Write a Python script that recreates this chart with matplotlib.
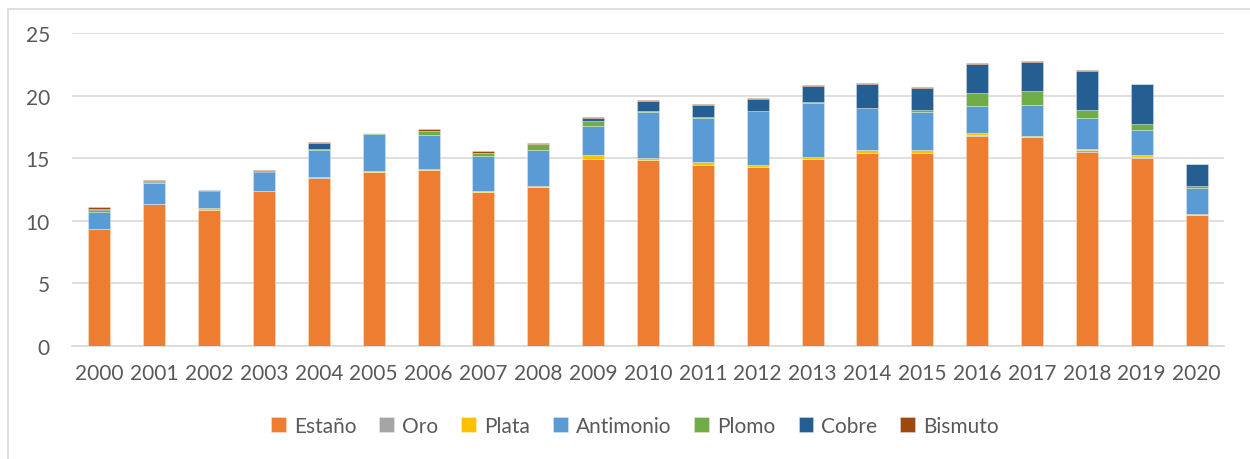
import numpy as np
import matplotlib
matplotlib.use("Agg")
import matplotlib.pyplot as plt
from matplotlib.patches import Rectangle

plt.rcParams['font.family'] = ['Lato', 'DejaVu Sans']

years = [str(y) for y in range(2000, 2021)]

estano = [9.35, 11.32, 10.89, 12.38, 13.45, 13.92, 14.06, 12.27, 12.70, 14.94, 14.83,
          14.46, 14.27, 14.94, 15.42, 15.42, 16.80, 16.69, 15.52, 15.04, 10.44]
oro = [0.01, 0.01, 0.01, 0.01, 0.01, 0.01, 0.01, 0.01, 0.01, 0.02, 0.02,
       0.02, 0.02, 0.02, 0.02, 0.02, 0.02, 0.02, 0.10, 0.02, 0.02]
plata = [0.02, 0.02, 0.12, 0.02, 0.03, 0.03, 0.03, 0.09, 0.04, 0.27, 0.17,
         0.24, 0.17, 0.16, 0.19, 0.19, 0.16, 0.09, 0.11, 0.17, 0.11]
antimonio = [1.36, 1.66, 1.33, 1.47, 2.17, 2.95, 2.79, 2.78, 2.88, 2.32, 3.64,
             3.52, 4.28, 4.31, 3.37, 3.03, 2.17, 2.43, 2.51, 2.02, 2.03]
plomo = [0.16, 0.07, 0.04, 0.05, 0.11, 0.10, 0.29, 0.26, 0.47, 0.40, 0.11,
         0.02, 0.02, 0.03, 0.02, 0.19, 1.06, 1.16, 0.58, 0.51, 0.18]
cobre = [0.08, 0.11, 0.03, 0.03, 0.44, 0.00, 0.01, 0.02, 0.02, 0.23, 0.83,
         1.00, 0.97, 1.28, 1.91, 1.75, 2.29, 2.29, 3.17, 3.14, 1.73]
bismuto = [0.13, 0.08, 0.07, 0.10, 0.09, 0.00, 0.11, 0.14, 0.11, 0.08, 0.02,
           0.08, 0.08, 0.11, 0.07, 0.09, 0.08, 0.08, 0.08, 0.02, 0.02]

series = [("Estaño", estano, "#ED7D31"),
          ("Oro", oro, "#A5A5A5"),
          ("Plata", plata, "#FFC000"),
          ("Antimonio", antimonio, "#5B9BD5"),
          ("Plomo", plomo, "#70AD47"),
          ("Cobre", cobre, "#255E91"),
          ("Bismuto", bismuto, "#9E480E")]

fig = plt.figure(figsize=(12.5, 4.6), dpi=100)
ax = fig.add_axes([0.0576, 0.2457, 0.9216, 0.6804])

x = np.arange(len(years))
bottom = np.zeros(len(years))
for name, vals, col in series:
    ax.bar(x, vals, 0.4, bottom=bottom, color=col, label=name,
           edgecolor=(1, 1, 1, 0.35), linewidth=0.6, zorder=3)
    bottom += np.array(vals)

ax.set_xlim(-0.5, len(years) - 0.5)
ax.set_ylim(0, 25)
ax.set_yticks(range(0, 26, 5))
ax.set_xticks(x)
ax.set_xticklabels(years)
ax.grid(axis='y', color='#D9D9D9', linewidth=1.2, zorder=0)
for s in ['top', 'right', 'left']:
    ax.spines[s].set_visible(False)
ax.spines['bottom'].set_color('#D9D9D9')
ax.spines['bottom'].set_linewidth(1.2)
ax.tick_params(axis='both', length=0, labelsize=15, colors='#595959')
ax.tick_params(axis='y', pad=16)
ax.tick_params(axis='x', pad=12)

fig.legend(loc='center', bbox_to_anchor=(0.508, 0.072), ncol=7, frameon=False,
           fontsize=15, handlelength=0.7, handleheight=0.7, handletextpad=0.4,
           columnspacing=1.1, labelcolor='#595959')

# outer chart frame
fig.patches.append(Rectangle((8 / 1250, -0.1), 1.2, 1 - 10 / 460 + 0.1,
                             transform=fig.transFigure, fill=False,
                             edgecolor='#D9D9D9', linewidth=1.2))

fig.savefig("out.png", dpi=100)
